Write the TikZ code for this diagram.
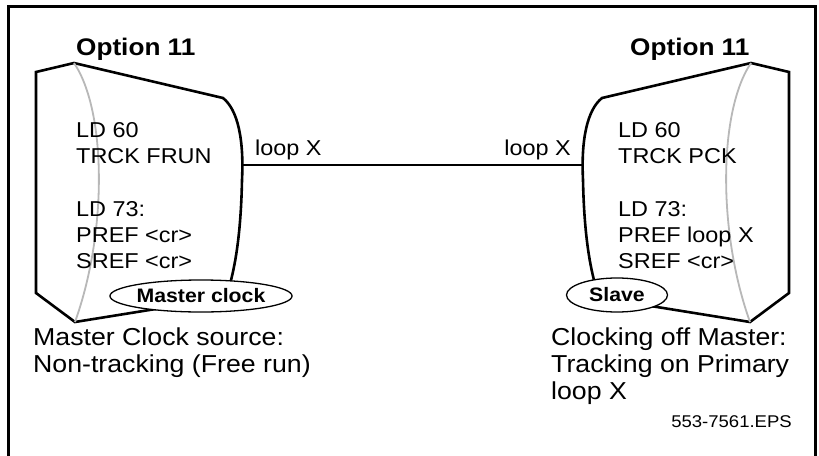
\documentclass[tikz,border=0pt]{standalone}
\usepackage{fontspec}
\setmainfont[FakeStretch=1.09]{Liberation Sans}
\usetikzlibrary{shapes.geometric}
\begin{document}
\begin{tikzpicture}[x=1pt,y=-1pt,
  txt/.style={inner sep=0pt,anchor=base west,font=\fontsize{21.5}{26}\selectfont},
  ttl/.style={inner sep=0pt,anchor=base west,font=\fontsize{24}{28}\selectfont\bfseries},
  captxt/.style={inner sep=0pt,anchor=base west,font=\fontsize{24.5}{28}\selectfont},
  shelf/.style={draw=black,line width=2.6pt,line join=miter,fill=white},
  grayarc/.style={draw=black!28,line width=1.8pt},
  tag/.style={draw=black,line width=1.3pt,fill=white,ellipse,inner sep=0pt,font=\fontsize{19.5}{22}\selectfont\bfseries},
  wire/.style={draw=black,line width=2pt}]
\useasboundingbox (0,0) rectangle (819,455);
% frame
\draw[line width=3pt] (8.5,470) -- (8.5,6.5) -- (815.5,6.5) -- (815.5,470);
% left cabinet
\path[shelf] (36,72) -- (74,63) -- (223,98) .. controls (238,110) and (244,140) .. (242,180)
  .. controls (241,230) and (236,262) .. (230,284) -- (230,297) -- (75,322) -- (36,293) -- cycle;
\draw[grayarc] (74,63) .. controls (106,110) and (108,230) .. (75,322);
% right cabinet
\path[shelf] (789,72) -- (751,63) -- (602,98) .. controls (587,110) and (581,140) .. (583,180)
  .. controls (584,230) and (589,262) .. (595,284) -- (595,297) -- (750,322) -- (789,293) -- cycle;
\draw[grayarc] (751,63) .. controls (719,110) and (717,230) .. (750,322);
% link
\coordinate (la) at (242.5,165);
\coordinate (ra) at (582.5,165);
\draw[wire] (la) -- (ra);
\node[txt] (lx1) at (255,155) {loop X};
\node[txt,anchor=base east] (lx2) at (571,155) {loop X};
% titles
\node[ttl] (t1) at (76,55) {Option 11};
\node[ttl] (t2) at (630,55) {Option 11};
% left text
\node[txt] (a1) at (76,137) {LD 60};
\node[txt] (a2) at (76,163) {TRCK FRUN};
\node[txt] (a3) at (76,216) {LD 73:};
\node[txt] (a4) at (76,242) {PREF <cr>};
\node[txt] (a5) at (76,268) {SREF <cr>};
% right text
\node[txt] (b1) at (618,137) {LD 60};
\node[txt] (b2) at (618,163) {TRCK PCK};
\node[txt] (b3) at (618,216) {LD 73:};
\node[txt] (b4) at (618,242) {PREF loop X};
\node[txt] (b5) at (618,268) {SREF <cr>};
% tags
\node[tag,minimum width=168pt,minimum height=32pt] (m) at (201,296) {Master clock};
\node[tag,minimum width=101pt,minimum height=34pt] (s) at (617,295) {Slave};
% captions
\node[captxt] (c1) at (33,345) {Master Clock source:};
\node[captxt] (c2) at (33,372) {Non-tracking (Free run)};
\node[captxt] (d1) at (551,345) {Clocking off Master:};
\node[captxt] (d2) at (551,372) {Tracking on Primary};
\node[captxt] (d3) at (551,399) {loop X};
\node[inner sep=0pt,anchor=base east,font=\fontsize{17}{20}\selectfont] (eps) at (792,427) {553-7561.EPS};
\end{tikzpicture}
\end{document}
